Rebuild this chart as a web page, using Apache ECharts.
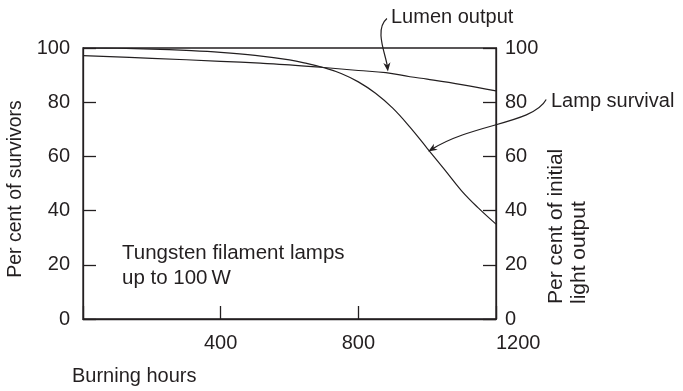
<!DOCTYPE html>
<html>
<head>
<meta charset="utf-8">
<script src="https://cdn.jsdelivr.net/npm/echarts@6/dist/echarts.min.js"></script>
<style>
  html, body { margin: 0; padding: 0; background: #fff; }
  #chart { width: 683px; height: 391px; }
</style>
</head>
<body>
<div id="chart"></div>
<script>
// Burning hours (x) for each curve
const survivalHours = [0, 100, 200, 300, 400, 500, 600, 650, 700, 750, 800, 850, 900, 950, 1000, 1050, 1100, 1150, 1200];
// Per cent of lamps still burning
const survivalPct   = [100, 99.9, 99.6, 99.1, 98.4, 97.3, 95.6, 94.3, 92.7, 90.6, 87.5, 83.3, 77.8, 70.8, 63, 55.2, 47.3, 40.8, 35];

const lumenHours = [0, 200, 400, 515, 600, 700, 800, 880, 950, 1000, 1100, 1200];
// Per cent of initial light output
const lumenPct   = [97.2, 96.2, 95.1, 94.4, 93.8, 92.8, 91.7, 90.9, 89.4, 88.5, 86.5, 84.2];

const xTicks = [0, 400, 800, 1200];
const yTicks = [0, 20, 40, 60, 80, 100];

const INK = '#231f20';
const FONT = 'Liberation Sans, Arial, Helvetica, sans-serif';
const FS = 20;

const chart = echarts.init(document.getElementById('chart'), null, { renderer: 'canvas' });

function pairs(xs, ys) { return xs.map((x, i) => [x, ys[i]]); }

const yAxisBase = {
  type: 'value', min: yTicks[0], max: yTicks[yTicks.length - 1], interval: 20,
  axisLine: { show: true, lineStyle: { color: INK, width: 1.3 } },
  axisTick: { show: true, inside: true, length: 13, lineStyle: { color: INK, width: 1.3 } },
  splitLine: { show: false },
  axisLabel: { color: INK, fontFamily: FONT, fontSize: FS }
};

chart.setOption({
  animation: false,
  backgroundColor: '#fff',
  grid: { left: 83, right: 187, top: 48, bottom: 72, show: true, borderColor: INK, borderWidth: 1.3 },
  xAxis: {
    type: 'value', min: xTicks[0], max: xTicks[xTicks.length - 1], interval: 400,
    axisLine: { show: true, lineStyle: { color: INK, width: 1.3 } },
    axisTick: { show: true, inside: true, length: 13, lineStyle: { color: INK, width: 1.3 } },
    splitLine: { show: false },
    axisLabel: {
      color: INK, fontFamily: FONT, fontSize: FS, margin: 14,
      alignMaxLabel: 'left',
      formatter: v => (v === 0 ? '' : String(v))
    }
  },
  yAxis: [
    Object.assign({}, yAxisBase, { position: 'left', axisLabel: Object.assign({}, yAxisBase.axisLabel, { margin: 13 }) }),
    Object.assign({}, yAxisBase, { position: 'right', axisLabel: Object.assign({}, yAxisBase.axisLabel, { margin: 9 }) })
  ],
  series: [
    {
      name: 'Lamp survival', type: 'line', yAxisIndex: 0, smooth: 0.4, symbol: 'none',
      lineStyle: { color: INK, width: 1.2 },
      data: pairs(survivalHours, survivalPct)
    },
    {
      name: 'Lumen output', type: 'line', yAxisIndex: 1, smooth: 0.4, symbol: 'none',
      lineStyle: { color: INK, width: 1.2 },
      data: pairs(lumenHours, lumenPct)
    }
  ]
});

// Curved pointer arrows, anchored on the curves in data units
function arrow(tip, startOff, cp1Off, cp2Off) {
  const p = chart.convertToPixel({ gridIndex: 0 }, tip);
  const s = [p[0] + startOff[0], p[1] + startOff[1]];
  const c1 = [p[0] + cp1Off[0], p[1] + cp1Off[1]];
  const c2 = [p[0] + cp2Off[0], p[1] + cp2Off[1]];
  const dx = p[0] - c2[0], dy = p[1] - c2[1];
  const len = Math.hypot(dx, dy) || 1;
  const ux = dx / len, uy = dy / len;
  const hl = 9, hw = 3.6;
  const bx = p[0] - ux * hl, by = p[1] - uy * hl;
  const head = [
    [p[0], p[1]],
    [bx - uy * hw, by + ux * hw],
    [p[0] - ux * hl * 0.7, p[1] - uy * hl * 0.7],
    [bx + uy * hw, by - ux * hw]
  ];
  const ex = p[0] - ux * 5, ey = p[1] - uy * 5;
  return [
    { type: 'bezierCurve', silent: true,
      shape: { x1: s[0], y1: s[1], cpx1: c1[0], cpy1: c1[1], cpx2: c2[0], cpy2: c2[1], x2: ex, y2: ey },
      style: { stroke: INK, lineWidth: 1.2, fill: null } },
    { type: 'polygon', silent: true, shape: { points: head }, style: { fill: INK } }
  ];
}

const lumenArrow = arrow([886, 91.3], [-1, -53], [-14, -42], [-2, -17]);
const survivalArrow = arrow([1003, 61.8], [118, -52], [105, -28], [45, -28]);

function label(text, x, y, extra) {
  return Object.assign({
    type: 'text', silent: true, x: x, y: y,
    style: Object.assign({ text: text, fill: INK, font: FS + 'px ' + FONT, align: 'left', verticalAlign: 'middle' }, extra || {})
  });
}

chart.setOption({
  graphic: [].concat(
    lumenArrow,
    survivalArrow,
    [
      label('Lumen output', 391, 17),
      label('Lamp survival', 551, 101),
      label('Tungsten filament lamps', 122, 253, { font: '20.5px ' + FONT }),
      label('up to 100\u2009W', 122, 278, { font: '20.5px ' + FONT }),
      label('Burning hours', 72, 376),
      Object.assign(label('Per cent of survivors', 16, 189, { align: 'center', font: '19.5px ' + FONT }), { rotation: Math.PI / 2 }),
      Object.assign(label('Per cent of initial\nlight output', 568, 304, { font: '21px ' + FONT, lineHeight: 23 }), { rotation: Math.PI / 2 })
    ]
  )
});
</script>
</body>
</html>
